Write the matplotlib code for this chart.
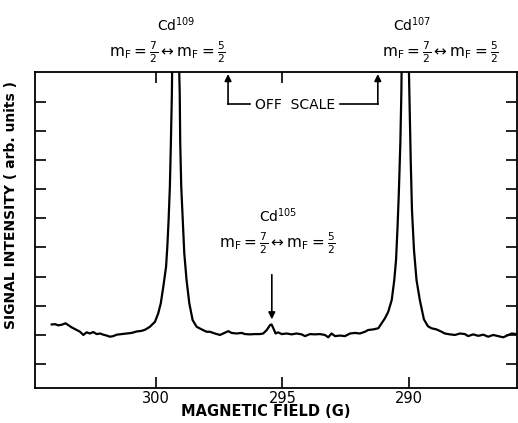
import matplotlib
matplotlib.use('Agg')
import matplotlib.pyplot as plt

# magnetic field (G) and signal (arb. units)
field = [304.12, 303.99, 303.86, 303.73, 303.57, 303.47, 303.33, 303.13, 303.00, 302.87,
         302.74, 302.61, 302.48, 302.34, 302.21, 302.08, 301.95, 301.82, 301.69, 301.55,
         301.36, 301.16, 300.96, 300.76, 300.57, 300.43, 300.24, 300.04, 299.91, 299.81,
         299.71, 299.60, 299.55, 299.50, 299.45, 299.41, 299.37, 299.36, 299.22, 299.08,
         299.06, 299.04, 299.00, 298.94, 298.88, 298.79, 298.68, 298.55, 298.39, 298.19,
         298.00, 297.87, 297.67, 297.47, 297.34, 297.14, 297.01, 296.81, 296.61, 296.48,
         296.28, 296.09, 295.89, 295.76, 295.62, 295.49, 295.43, 295.36, 295.27, 295.17,
         295.03, 294.83, 294.64, 294.44, 294.24, 294.11, 293.91, 293.72, 293.52, 293.32,
         293.19, 293.06, 292.92, 292.73, 292.53, 292.33, 292.13, 291.94, 291.74, 291.61,
         291.41, 291.21, 291.08, 290.95, 290.82, 290.68, 290.58, 290.51, 290.45, 290.40,
         290.34, 290.30, 290.29, 290.15, 290.00, 289.97, 289.93, 289.88, 289.80, 289.70,
         289.57, 289.41, 289.25, 289.11, 288.91, 288.71, 288.58, 288.38, 288.18, 287.98,
         287.79, 287.66, 287.46, 287.26, 287.06, 286.87, 286.67, 286.47, 286.27, 286.07,
         285.94, 285.74]
signal = [2.36, 2.37, 2.33, 2.35, 2.40, 2.34, 2.26, 2.17, 2.11, 2.00,
          2.09, 2.05, 2.10, 2.03, 2.05, 2.01, 1.98, 1.94, 1.96, 2.01,
          2.03, 2.05, 2.07, 2.12, 2.14, 2.18, 2.28, 2.45, 2.74, 3.08,
          3.65, 4.34, 5.03, 5.94, 7.08, 8.57, 10.29, 11.03, 40.0, 11.03,
          10.29, 8.57, 7.08, 5.94, 4.80, 3.88, 3.08, 2.51, 2.28, 2.19,
          2.11, 2.11, 2.05, 2.00, 2.05, 2.13, 2.07, 2.05, 2.07, 2.03,
          2.02, 2.03, 2.03, 2.05, 2.17, 2.34, 2.36, 2.23, 2.05, 2.09,
          2.03, 2.05, 2.02, 2.05, 2.02, 1.96, 2.03, 2.02, 2.03, 2.00,
          1.92, 2.05, 1.96, 1.98, 1.96, 2.05, 2.07, 2.05, 2.11, 2.17,
          2.19, 2.23, 2.40, 2.57, 2.79, 3.20, 3.88, 4.57, 5.71, 6.86,
          8.57, 10.29, 11.03, 40.0, 11.03, 9.72, 8.00, 6.28, 4.91, 3.88,
          3.20, 2.54, 2.30, 2.23, 2.19, 2.11, 2.05, 2.02, 2.00, 2.05,
          2.03, 1.96, 2.02, 1.97, 2.01, 1.94, 2.00, 1.96, 1.92, 2.00,
          2.05, 2.03]

xticks = [300, 295, 290]
xticklabels = ['300', '295', '290']
yticks = [1, 2, 3, 4, 5, 6, 7, 8, 9, 10]

plt.rcParams['font.family'] = ['DejaVu Sans']
plt.rcParams['mathtext.fontset'] = 'dejavusans'

fig = plt.figure(figsize=(5.18, 4.23), dpi=100)
ax = fig.add_axes([0.0676, 0.0827, 0.9304, 0.7471])

ax.plot(field, signal, color='black', lw=1.6)
ax.set_xlim(304.78, 285.73)
ax.set_ylim(0.18, 11.02)

ax.set_xticks(xticks)
ax.set_xticklabels(xticklabels, fontsize=10.5)
ax.set_yticks(yticks)
ax.set_yticklabels([])
ax.tick_params(direction='in', top=True, right=True, length=8, width=1.2, pad=2)
for s in ax.spines.values():
    s.set_linewidth(1.3)

ax.set_xlabel('MAGNETIC FIELD (G)', fontsize=10.5, fontweight='bold')
ax.xaxis.set_label_coords(0.479, -0.052)
ax.set_ylabel('SIGNAL INTENSITY ( arb. units )', fontsize=10, fontweight='bold')
ax.yaxis.set_label_coords(-0.035, 0.579)

mf = r'$\mathrm{m_F = \frac{7}{2} \leftrightarrow m_F = \frac{5}{2}}$'

# Cd109 and Cd107 labels above the frame
ax.text(299.21, 12.63, r'Cd$^{109}$', ha='center', va='center', fontsize=10)
ax.text(299.53, 11.71, mf, ha='center', va='center', fontsize=11)
ax.text(289.88, 12.63, r'Cd$^{107}$', ha='center', va='center', fontsize=10)
ax.text(288.74, 11.71, mf, ha='center', va='center', fontsize=11)

# Cd105 label with arrow
ax.text(295.18, 6.08, r'Cd$^{105}$', ha='center', va='center', fontsize=10)
ax.text(295.18, 5.15, mf, ha='center', va='center', fontsize=11)
ax.annotate('', xy=(295.42, 2.44), xytext=(295.42, 4.16),
            arrowprops=dict(arrowstyle='-|>', color='black', lw=1.2))

# off scale bracket
ax.text(294.49, 9.89, 'OFF  SCALE', ha='center', va='center', fontsize=10)
ax.plot([296.28, 297.15], [9.92, 9.92], color='black', lw=1.2)
ax.annotate('', xy=(297.15, 10.95), xytext=(297.15, 9.92),
            arrowprops=dict(arrowstyle='-|>', color='black', lw=1.2, shrinkA=0, shrinkB=0))
ax.plot([292.73, 291.23], [9.92, 9.92], color='black', lw=1.2)
ax.annotate('', xy=(291.23, 10.95), xytext=(291.23, 9.92),
            arrowprops=dict(arrowstyle='-|>', color='black', lw=1.2, shrinkA=0, shrinkB=0))

fig.savefig('out.png', dpi=100)
